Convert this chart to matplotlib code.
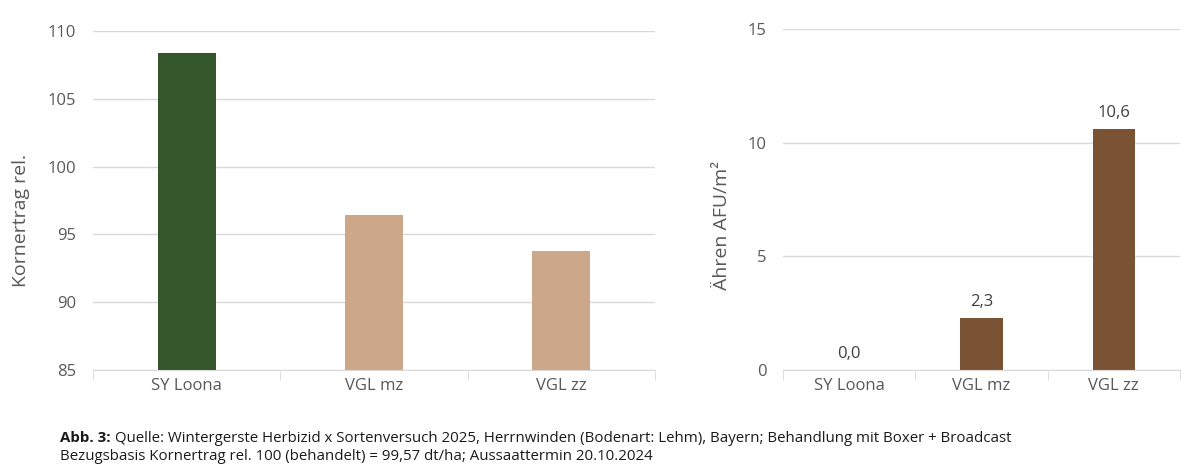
import matplotlib.pyplot as plt
from matplotlib.ticker import FixedLocator

plt.rcParams['font.family'] = ['Open Sans', 'Noto Sans', 'DejaVu Sans']

# data
sorten = ["SY Loona", "VGL mz", "VGL zz"]
kornertrag = [108.4, 96.4, 93.8]
aehren = [0.0, 2.3, 10.6]
aehren_labels = ["0,0", "2,3", "10,6"]

grau = "#595959"
linie = "#d9d9d9"
farben_links = ["#33562a", "#cca78a", "#cca78a"]
farbe_rechts = "#7a5334"

fig = plt.figure(figsize=(11.99, 4.76), dpi=100)
ax1 = fig.add_axes([0.0776, 0.2227, 0.4685, 0.7122])
ax2 = fig.add_axes([0.653, 0.2227, 0.331, 0.7163])


def stil(ax):
    for s in ["top", "right", "left"]:
        ax.spines[s].set_visible(False)
    ax.spines["bottom"].set_color(linie)
    ax.grid(axis="y", color=linie, linewidth=1)
    ax.set_axisbelow(True)
    ax.tick_params(axis="y", length=0, labelsize=12, colors=grau, pad=12)
    ax.tick_params(axis="x", which="major", length=0, labelsize=12, colors=grau, pad=6)
    ax.xaxis.set_minor_locator(FixedLocator([-0.5, 0.5, 1.5, 2.5]))
    ax.tick_params(axis="x", which="minor", length=7, color=linie)
    ax.set_xlim(-0.5, 2.5)


x = range(len(sorten))
ax1.bar(x, kornertrag, width=0.31, color=farben_links)
ax1.set_ylim(85, 110)
ax1.set_yticks([85, 90, 95, 100, 105, 110])
ax1.set_xticks(list(x))
ax1.set_xticklabels(sorten)
stil(ax1)
ax1.set_ylabel("Kornertrag rel.", fontsize=14, color=grau)
ax1.yaxis.set_label_coords(-0.113, 0.44)

bars = ax2.bar(x, aehren, width=0.32, color=farbe_rechts)
ax2.set_ylim(0, 15)
ax2.set_yticks([0, 5, 10, 15])
ax2.set_xticks(list(x))
ax2.set_xticklabels(sorten)
stil(ax2)
ax2.set_ylabel("Ähren AFU/m²", fontsize=14, color=grau)
ax2.yaxis.set_label_coords(-0.13, 0.425)
for b, lab in zip(bars, aehren_labels):
    ax2.annotate(lab, (b.get_x() + b.get_width() / 2, b.get_height()),
                 xytext=(0, 5.5), textcoords="offset points",
                 ha="center", va="bottom", fontsize=12, color="#404040")

# Bildunterschrift
t1 = fig.text(0.05, 1 - 438 / 476, "Abb. 3:", fontsize=10.8, fontweight="bold",
              color="#1a1a1a", va="center")
fig.canvas.draw()
bb = t1.get_window_extent()
x2 = (bb.x1 + 4) / fig.bbox.width
fig.text(x2, 1 - 438 / 476,
         "Quelle: Wintergerste Herbizid x Sortenversuch 2025, Herrnwinden (Bodenart: Lehm), Bayern; Behandlung mit Boxer + Broadcast",
         fontsize=10.8, color="#1a1a1a", va="center")
fig.text(0.05, 1 - 456 / 476,
         "Bezugsbasis Kornertrag rel. 100 (behandelt) = 99,57 dt/ha; Aussaattermin 20.10.2024",
         fontsize=10.8, color="#1a1a1a", va="center")

fig.savefig("out.png", dpi=100)
